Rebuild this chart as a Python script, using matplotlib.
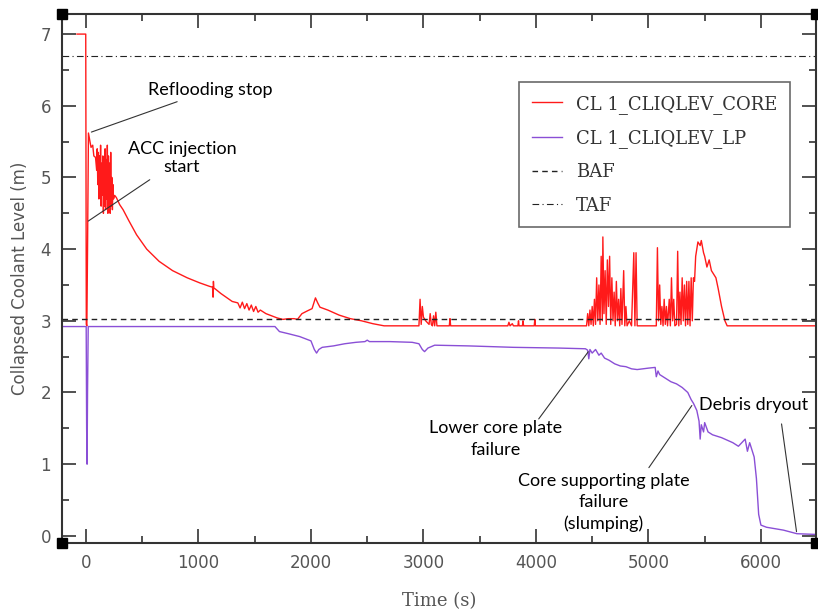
import numpy as np
import matplotlib.pyplot as plt
from matplotlib.ticker import MultipleLocator

# temps (s) et niveau (m)
core_t = [-80, -2, 3, 8, 14, 22, 30, 45, 60, 70, 85, 95,
          100, 105, 110, 115, 120, 125, 130, 135, 140, 145, 150, 155, 160, 165,
          170, 175, 180, 185, 190, 195, 200, 205, 210, 215, 220, 225, 230, 235,
          240, 245, 255, 270, 300, 330, 380, 450, 540, 650, 770, 900, 1010,
          1100, 1125, 1130, 1133, 1137, 1145, 1200, 1300,
          1350, 1370, 1390, 1410, 1430, 1450, 1470, 1490, 1510, 1530, 1550,
          1600, 1700, 1750, 1800, 1850, 1880, 1920, 1970, 2010, 2040, 2060,
          2080, 2150, 2250, 2350, 2450, 2550, 2650, 2950, 2960, 2970, 2980,
          2990, 3000, 3020, 3050, 3060, 3070, 3080, 3090, 3100, 3110, 3120,
          3130, 3230, 3236, 3242, 3750, 3760, 3770, 3790, 3800, 3840, 3845,
          3850, 3880, 3885, 3890, 3985, 3990, 3995,
          4450, 4460, 4470, 4480, 4490, 4500, 4510, 4520, 4530, 4540, 4550,
          4560, 4570, 4580, 4590, 4595, 4605, 4615, 4625, 4635, 4645, 4655,
          4665, 4675, 4685, 4695, 4705, 4715, 4725, 4735, 4745, 4755, 4765,
          4780, 4790, 4800, 4810, 4830, 4850, 4870, 4880, 4890, 4900,
          5070, 5080, 5090, 5100, 5110, 5120, 5130, 5140, 5150, 5160, 5170,
          5185, 5195, 5205, 5215, 5225, 5235, 5250, 5260, 5270, 5280, 5290,
          5300, 5310, 5320, 5330, 5340, 5350, 5360, 5370, 5380, 5390, 5400,
          5410, 5420, 5440, 5460, 5470, 5490, 5500, 5520, 5540, 5560, 5580,
          5600, 5620, 5650, 5680, 5700, 6490]
core_v = [7.0, 7.0, 2.95, 2.93, 4.0, 5.62, 5.55, 5.42, 5.45, 5.3, 5.28, 5.1,
          5.4, 4.9, 5.35, 4.7, 5.3, 4.85, 5.45, 4.6, 5.2, 4.75, 5.3, 4.5, 5.1, 4.6,
          5.4, 4.55, 5.25, 4.7, 5.45, 4.5, 5.3, 4.65, 5.2, 4.5, 5.35, 4.6, 5.0, 4.55,
          4.9, 4.7, 4.75, 4.72, 4.62, 4.55, 4.4, 4.2, 4.0, 3.83, 3.7, 3.6, 3.53,
          3.48, 3.47, 3.33, 3.55, 3.45, 3.45, 3.38, 3.27,
          3.25, 3.18, 3.26, 3.17, 3.24, 3.15, 3.22, 3.13, 3.2, 3.12, 3.15,
          3.1, 3.04, 3.02, 3.03, 3.03, 3.02, 3.1, 3.14, 3.17, 3.32, 3.25,
          3.19, 3.15, 3.08, 3.03, 3.0, 2.96, 2.93, 2.93, 2.93, 3.3, 2.95,
          3.2, 3.05, 3.0, 2.95, 3.1, 2.95, 2.93, 3.07, 2.93, 3.12, 2.93,
          2.93, 2.93, 3.03, 2.93, 2.93, 2.98, 2.93, 2.96, 2.93, 2.93, 3.0,
          2.93, 2.93, 3.0, 2.93, 2.93, 3.02, 2.93,
          2.93, 3.1, 2.93, 3.15, 2.95, 3.2, 2.93, 3.3, 2.95, 3.6, 3.0,
          3.5, 2.95, 3.9, 3.0, 4.17, 3.1, 3.7, 2.95, 3.85, 3.2, 3.9,
          2.95, 3.6, 3.0, 3.4, 2.93, 3.55, 3.0, 3.3, 2.93, 3.45, 2.95,
          3.7, 2.93, 3.2, 2.93, 3.0, 2.93, 3.95, 2.93, 3.95, 2.93,
          2.93, 4.02, 3.0, 3.5, 2.95, 3.2, 2.93, 3.3, 2.95, 3.2, 2.93,
          3.3, 2.93, 3.6, 3.0, 3.3, 2.93, 2.95, 3.97, 2.93, 3.4, 2.95,
          3.6, 3.0, 3.5, 2.93, 3.55, 2.95, 3.55, 2.93, 3.6, 3.0, 3.6,
          3.55, 3.9, 4.1, 4.05, 4.12, 3.95, 3.9, 3.75, 3.85, 3.7, 3.65,
          3.6, 3.45, 3.2, 3.0, 2.93, 2.93]

lp_t = [-250, 2, 6, 10, 14, 20, 1680, 1720, 1800, 1900, 2000, 2030, 2050,
        2070, 2100, 2200, 2300, 2400, 2480, 2500, 2520, 2700, 2900, 2960,
        2990, 3010, 3040, 3100, 3400, 3800, 4200, 4440, 4460, 4470, 4480,
        4500, 4530, 4560, 4580, 4610, 4650, 4700, 4750, 4800, 4850, 4900,
        5000, 5060, 5070, 5085, 5100, 5150, 5200, 5250, 5300, 5350, 5380,
        5400, 5430, 5450, 5460, 5470, 5490, 5500, 5530, 5570, 5650, 5750,
        5800, 5860, 5880, 5900, 5940, 5960, 5980, 6000, 6050, 6200, 6320, 6490]
lp_v = [2.92, 2.92, 1.5, 1.0, 2.0, 2.92, 2.92, 2.85, 2.82, 2.78, 2.72, 2.6, 2.55,
        2.6, 2.63, 2.65, 2.68, 2.7, 2.71, 2.73, 2.71, 2.71, 2.7, 2.68,
        2.6, 2.57, 2.62, 2.66, 2.65, 2.63, 2.62, 2.61, 2.59, 2.47, 2.6,
        2.55, 2.6, 2.52, 2.55, 2.48, 2.45, 2.4, 2.37, 2.36, 2.33, 2.32,
        2.34, 2.35, 2.22, 2.3, 2.25, 2.2, 2.15, 2.12, 2.07, 2.0, 1.9,
        1.85, 1.75, 1.6, 1.35, 1.55, 1.45, 1.58, 1.45, 1.41, 1.37, 1.3,
        1.25, 1.35, 1.18, 1.3, 1.1, 0.8, 0.3, 0.15, 0.12, 0.08, 0.03, 0.02]

baf = 3.03
taf = 6.7

fig = plt.figure(figsize=(8.18, 6.12), dpi=100)
ax = fig.add_axes([0.0758, 0.1127, 0.9218, 0.8644])

ax.plot(core_t, core_v, color='#ff1a1a', lw=1.0, label='CL 1_CLIQLEV_CORE')
ax.plot(lp_t, lp_v, color='#8a4fd6', lw=1.0, label='CL 1_CLIQLEV_LP')
ax.axhline(baf, color='#222222', lw=1.0, ls=(0, (4, 3)), label='BAF')
ax.axhline(taf, color='#222222', lw=0.8, ls=(0, (6, 3, 1, 3)), label='TAF')

ax.set_xlim(-213, 6490)
ax.set_ylim(-0.1, 7.28)
ax.xaxis.set_major_locator(MultipleLocator(1000))
ax.xaxis.set_minor_locator(MultipleLocator(500))
ax.yaxis.set_major_locator(MultipleLocator(1))
ax.yaxis.set_minor_locator(MultipleLocator(0.5))
ax.tick_params(which='both', direction='in', top=True, right=True,
               color='#333333', width=1.2, labelcolor='#555555', labelsize=12)
ax.tick_params(which='major', length=10, pad=8)
ax.tick_params(which='minor', length=5)
for s in ax.spines.values():
    s.set_linewidth(1.5)
    s.set_color('#333333')

# petits carrés noirs aux coins
for cx, cy in [(0, 0), (0, 1), (1, 0), (1, 1)]:
    ax.plot(cx, cy, 's', color='black', ms=7, transform=ax.transAxes, clip_on=False, zorder=10)

ax.set_xlabel('Time (s)', family='DejaVu Serif', fontsize=13, color='#555555', labelpad=14)
ax.set_ylabel('Collapsed Coolant Level (m)', fontsize=12, color='#555555', labelpad=8)

leg = ax.legend(loc='upper right', bbox_to_anchor=(0.9655, 0.8715), borderaxespad=0,
                prop={'family': 'DejaVu Serif', 'size': 13},
                frameon=True, fancybox=False, edgecolor='#444444', handlelength=1.66,
                handletextpad=0.78, labelspacing=0.85, borderpad=0.7)
leg.get_frame().set_linewidth(1.2)
for txt in leg.get_texts():
    txt.set_color('#333333')

af = dict(family='Lato', fontsize=13, color='black')
lp = dict(arrowstyle='-', color='#333333', lw=0.8)
ax.annotate('Reflooding stop', xy=(25, 5.62), xytext=(551, 6.22), ha='left', va='center',
            arrowprops=lp, **af)
ax.annotate('ACC injection\nstart', xy=(0, 4.37), xytext=(853, 5.27), ha='center', va='center',
            arrowprops=lp, **af)
ax.annotate('', xy=(4480, 2.6), xytext=(4010, 1.6), arrowprops=lp)
ax.text(3640, 1.35, 'Lower core plate\nfailure', ha='center', va='center', linespacing=1.4, **af)
ax.annotate('', xy=(5400, 1.85), xytext=(4990, 0.92), arrowprops=lp)
ax.text(4600, 0.47, 'Core supporting plate\nfailure\n(slumping)', ha='center', va='center',
        linespacing=1.4, **af)
ax.annotate('', xy=(6320, 0.02), xytext=(6180, 1.6), arrowprops=lp)
ax.text(5450, 1.83, 'Debris dryout', ha='left', va='center', **af)

plt.savefig('out.png', dpi=100)
